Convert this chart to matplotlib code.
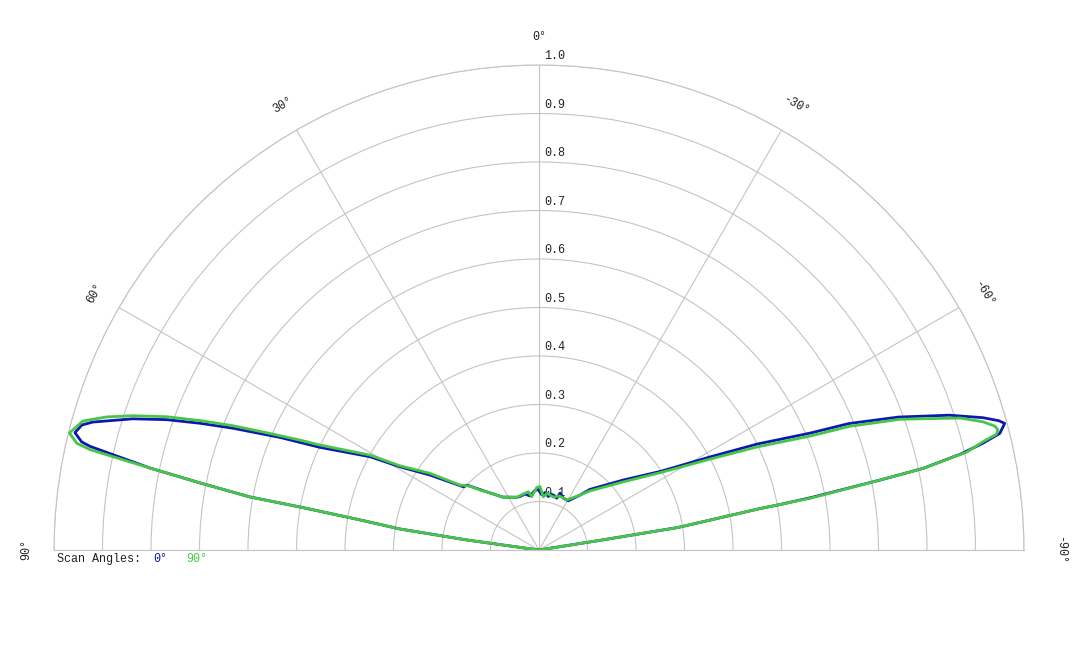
import numpy as np
import matplotlib.pyplot as plt

plt.rcParams['font.family'] = ['Liberation Mono', 'DejaVu Sans Mono']

# radiation pattern, angle in degrees (positive = left), normalised amplitude
theta_0 = [-90, -81.0, -80.8, -79.4, -79.3, -79.1, -78.4, -78.0, -77.2, -76.5,
           -75.8, -74.8, -74.3, -73.4, -71.8, -69.7, -67.8, -66.7, -64.1, -61.4,
           -57.2, -50.2, -40.0, -36.7, -30.7, -25.2, -20.3, -18.9, -12.8, -9.9,
           -6.0, -2.8, 0.7, 3.9, 9.5, 14.0, 19.6, 22.9, 34.3, 41.9,
           48.0, 50.1, 55.5, 59.1, 61.1, 64.9, 66.5, 68.3, 69.5, 70.7,
           72.1, 74.0, 74.7, 75.8, 76.7, 77.0, 78.1, 78.8, 79.6, 79.8,
           80.4, 81.4, 82.1, 90]
r_0 = [0.0, 0.13, 0.29, 0.46, 0.51, 0.57, 0.72, 0.81, 0.89, 0.94,
       0.98, 0.995, 0.985, 0.955, 0.89, 0.79, 0.69, 0.61, 0.50, 0.40,
       0.30, 0.225, 0.163, 0.141, 0.118, 0.118, 0.125, 0.113, 0.118, 0.112,
       0.119, 0.114, 0.125, 0.123, 0.113, 0.119, 0.117, 0.118, 0.132, 0.161,
       0.20, 0.203, 0.273, 0.334, 0.398, 0.499, 0.582, 0.679, 0.746, 0.813,
       0.880, 0.957, 0.977, 0.987, 0.969, 0.95, 0.82, 0.713, 0.606, 0.50,
       0.381, 0.29, 0.15, 0.0]

theta_90 = [-90, -81.0, -80.8, -79.4, -79.2, -78.4, -78.0, -77.1, -76.3, -75.8,
            -75.3, -74.8, -73.9, -72.6, -70.1, -68.3, -67.2, -64.7, -62.0, -57.8,
            -51.0, -40.8, -36.7, -29.0, -20.6, -15.2, -8.3, -4.6, -0.9, 2.1,
            7.8, 10.4, 15.7, 22.9, 34.3, 41.9, 44.5, 47.2, 50.6, 54.9,
            58.8, 60.7, 64.4, 65.3, 66.7, 67.9, 69.1, 70.3, 71.7, 72.9,
            74.2, 76.0, 77.0, 77.4, 78.1, 78.8, 79.6, 79.8, 80.4, 81.4,
            82.1, 90]
r_90 = [0.0, 0.13, 0.29, 0.46, 0.57, 0.72, 0.81, 0.905, 0.942, 0.973,
        0.978, 0.974, 0.953, 0.91, 0.792, 0.69, 0.606, 0.497, 0.399, 0.302,
        0.223, 0.161, 0.141, 0.118, 0.119, 0.113, 0.118, 0.110, 0.131, 0.129,
        0.111, 0.122, 0.120, 0.118, 0.132, 0.161, 0.173, 0.194, 0.211, 0.275,
        0.335, 0.40, 0.501, 0.542, 0.611, 0.681, 0.748, 0.815, 0.882, 0.933,
        0.977, 0.998, 0.978, 0.948, 0.82, 0.713, 0.606, 0.50, 0.381, 0.29,
        0.15, 0.0]

r_ticks = [0.1, 0.2, 0.3, 0.4, 0.5, 0.6, 0.7, 0.8, 0.9, 1.0]
theta_ticks = [-90, -60, -30, 0, 30, 60, 90]

blue = '#0c18b0'
green = '#46c646'
grid_c = '#c4c4c4'

fig = plt.figure(figsize=(10.8, 6.48), dpi=100)
# square box of side 2R centred on the half-disc; the wedge fills its middle
R = 485
cx, cy = 539, 648 - 550 + R / 2
ax = fig.add_axes([(cx - R) / 1080, (cy - R) / 648, 2 * R / 1080, 2 * R / 648],
                  projection='polar')
ax.set_theta_zero_location('N')
ax.set_theta_direction(1)
ax.set_thetamin(-90)
ax.set_thetamax(90)
ax.set_ylim(0, 1)
ax.set_rticks(r_ticks)
ax.set_yticklabels([])
ax.set_thetagrids(theta_ticks, labels=[''] * len(theta_ticks))
ax.grid(True, color=grid_c, lw=0.8)
for s in ax.spines.values():
    s.set_color(grid_c)
    s.set_linewidth(0.8)

# radial labels along the 0 degree spoke
for r in r_ticks:
    ax.annotate(f'{r:.1f}', xy=(0, r), xytext=(4, 2), textcoords='offset points',
                ha='left', va='bottom', fontsize=8.5, color='#222222', zorder=1)

# angle labels
for a in theta_ticks:
    rr = 1.075 if a == -90 else 1.058
    ax.text(np.deg2rad(a), rr, f'{a}°', rotation=a, ha='center', va='center',
            rotation_mode='anchor', fontsize=8.5, color='#222222', clip_on=False)

ax.plot(np.deg2rad(theta_0), r_0, color=blue, lw=2, zorder=3)
ax.plot(np.deg2rad(theta_90), r_90, color=green, lw=2, zorder=4)

fig.text(57 / 1080, 89 / 648, 'Scan Angles:', va='center', fontsize=8.5, color='#222222')
fig.text(153 / 1080, 89 / 648, '0°', va='center', fontsize=8.5, color=blue)
fig.text(186 / 1080, 89 / 648, '90°', va='center', fontsize=8.5, color=green)

fig.savefig('out.png', dpi=100)
